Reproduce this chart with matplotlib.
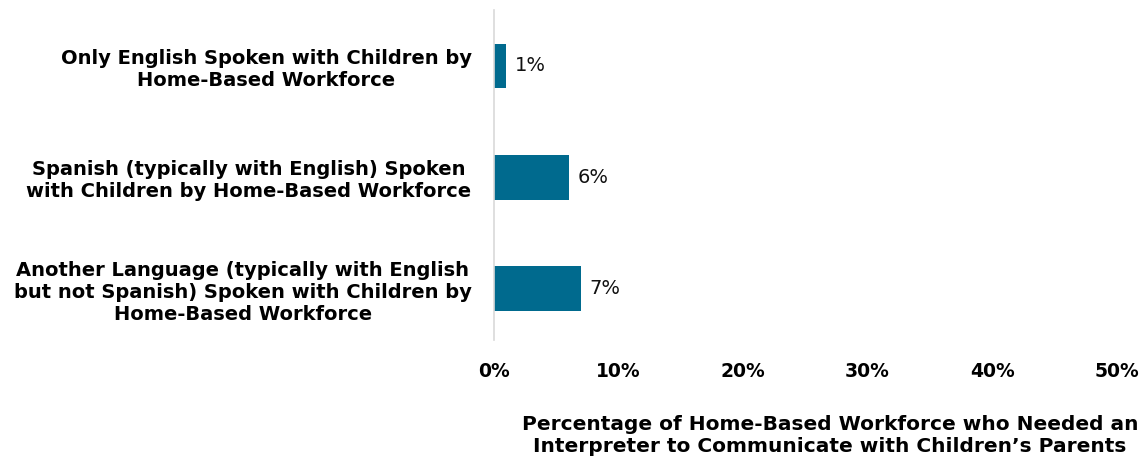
import matplotlib
matplotlib.use('Agg')
import matplotlib.pyplot as plt

plt.rcParams['font.family'] = ['DejaVu Sans']

categories = [
    'Only English Spoken with Children by\nHome-Based Workforce',
    'Spanish (typically with English) Spoken\nwith Children by Home-Based Workforce',
    'Another Language (typically with English\nbut not Spanish) Spoken with Children by\nHome-Based Workforce',
]
values = [1, 6, 7]
value_labels = ['1%', '6%', '7%']
xticks = [0, 10, 20, 30, 40, 50]
xtick_labels = ['0%', '10%', '20%', '30%', '40%', '50%']

fig = plt.figure(figsize=(11.43, 4.62), dpi=100)
ax = fig.add_axes([0.432, 0.264, 0.545, 0.714])

ypos = range(len(categories))
bars = ax.barh(ypos, values, height=0.4, color='#006a8e')
for b, lab in zip(bars, value_labels):
    ax.text(b.get_width() + 0.7, b.get_y() + b.get_height() / 2, lab,
            va='center', ha='left', fontsize=14, color='#111111')

ax.set_xlim(0, 50)
ax.set_ylim(2.46, -0.5)
ax.set_yticks(list(ypos))
ax.set_yticklabels(categories, fontsize=14, fontweight='bold',
                   linespacing=1.2, multialignment='center')
ax.set_xticks(xticks)
ax.set_xticklabels(xtick_labels, fontsize=13.5, fontweight='bold')
ax.tick_params(axis='both', length=0)
ax.tick_params(axis='x', pad=16)
ax.tick_params(axis='y', pad=16)
for s in ['top', 'right', 'bottom']:
    ax.spines[s].set_visible(False)
ax.spines['left'].set_color('#d9d9d9')
ax.spines['left'].set_linewidth(1.2)

fig.text(830 / 1143, 1 - 436 / 462,
         'Percentage of Home-Based Workforce who Needed an\nInterpreter to Communicate with Children\u2019s Parents',
         ha='center', va='center', fontsize=14.5, fontweight='bold', linespacing=1.2)

fig.savefig('out.png', dpi=100)
